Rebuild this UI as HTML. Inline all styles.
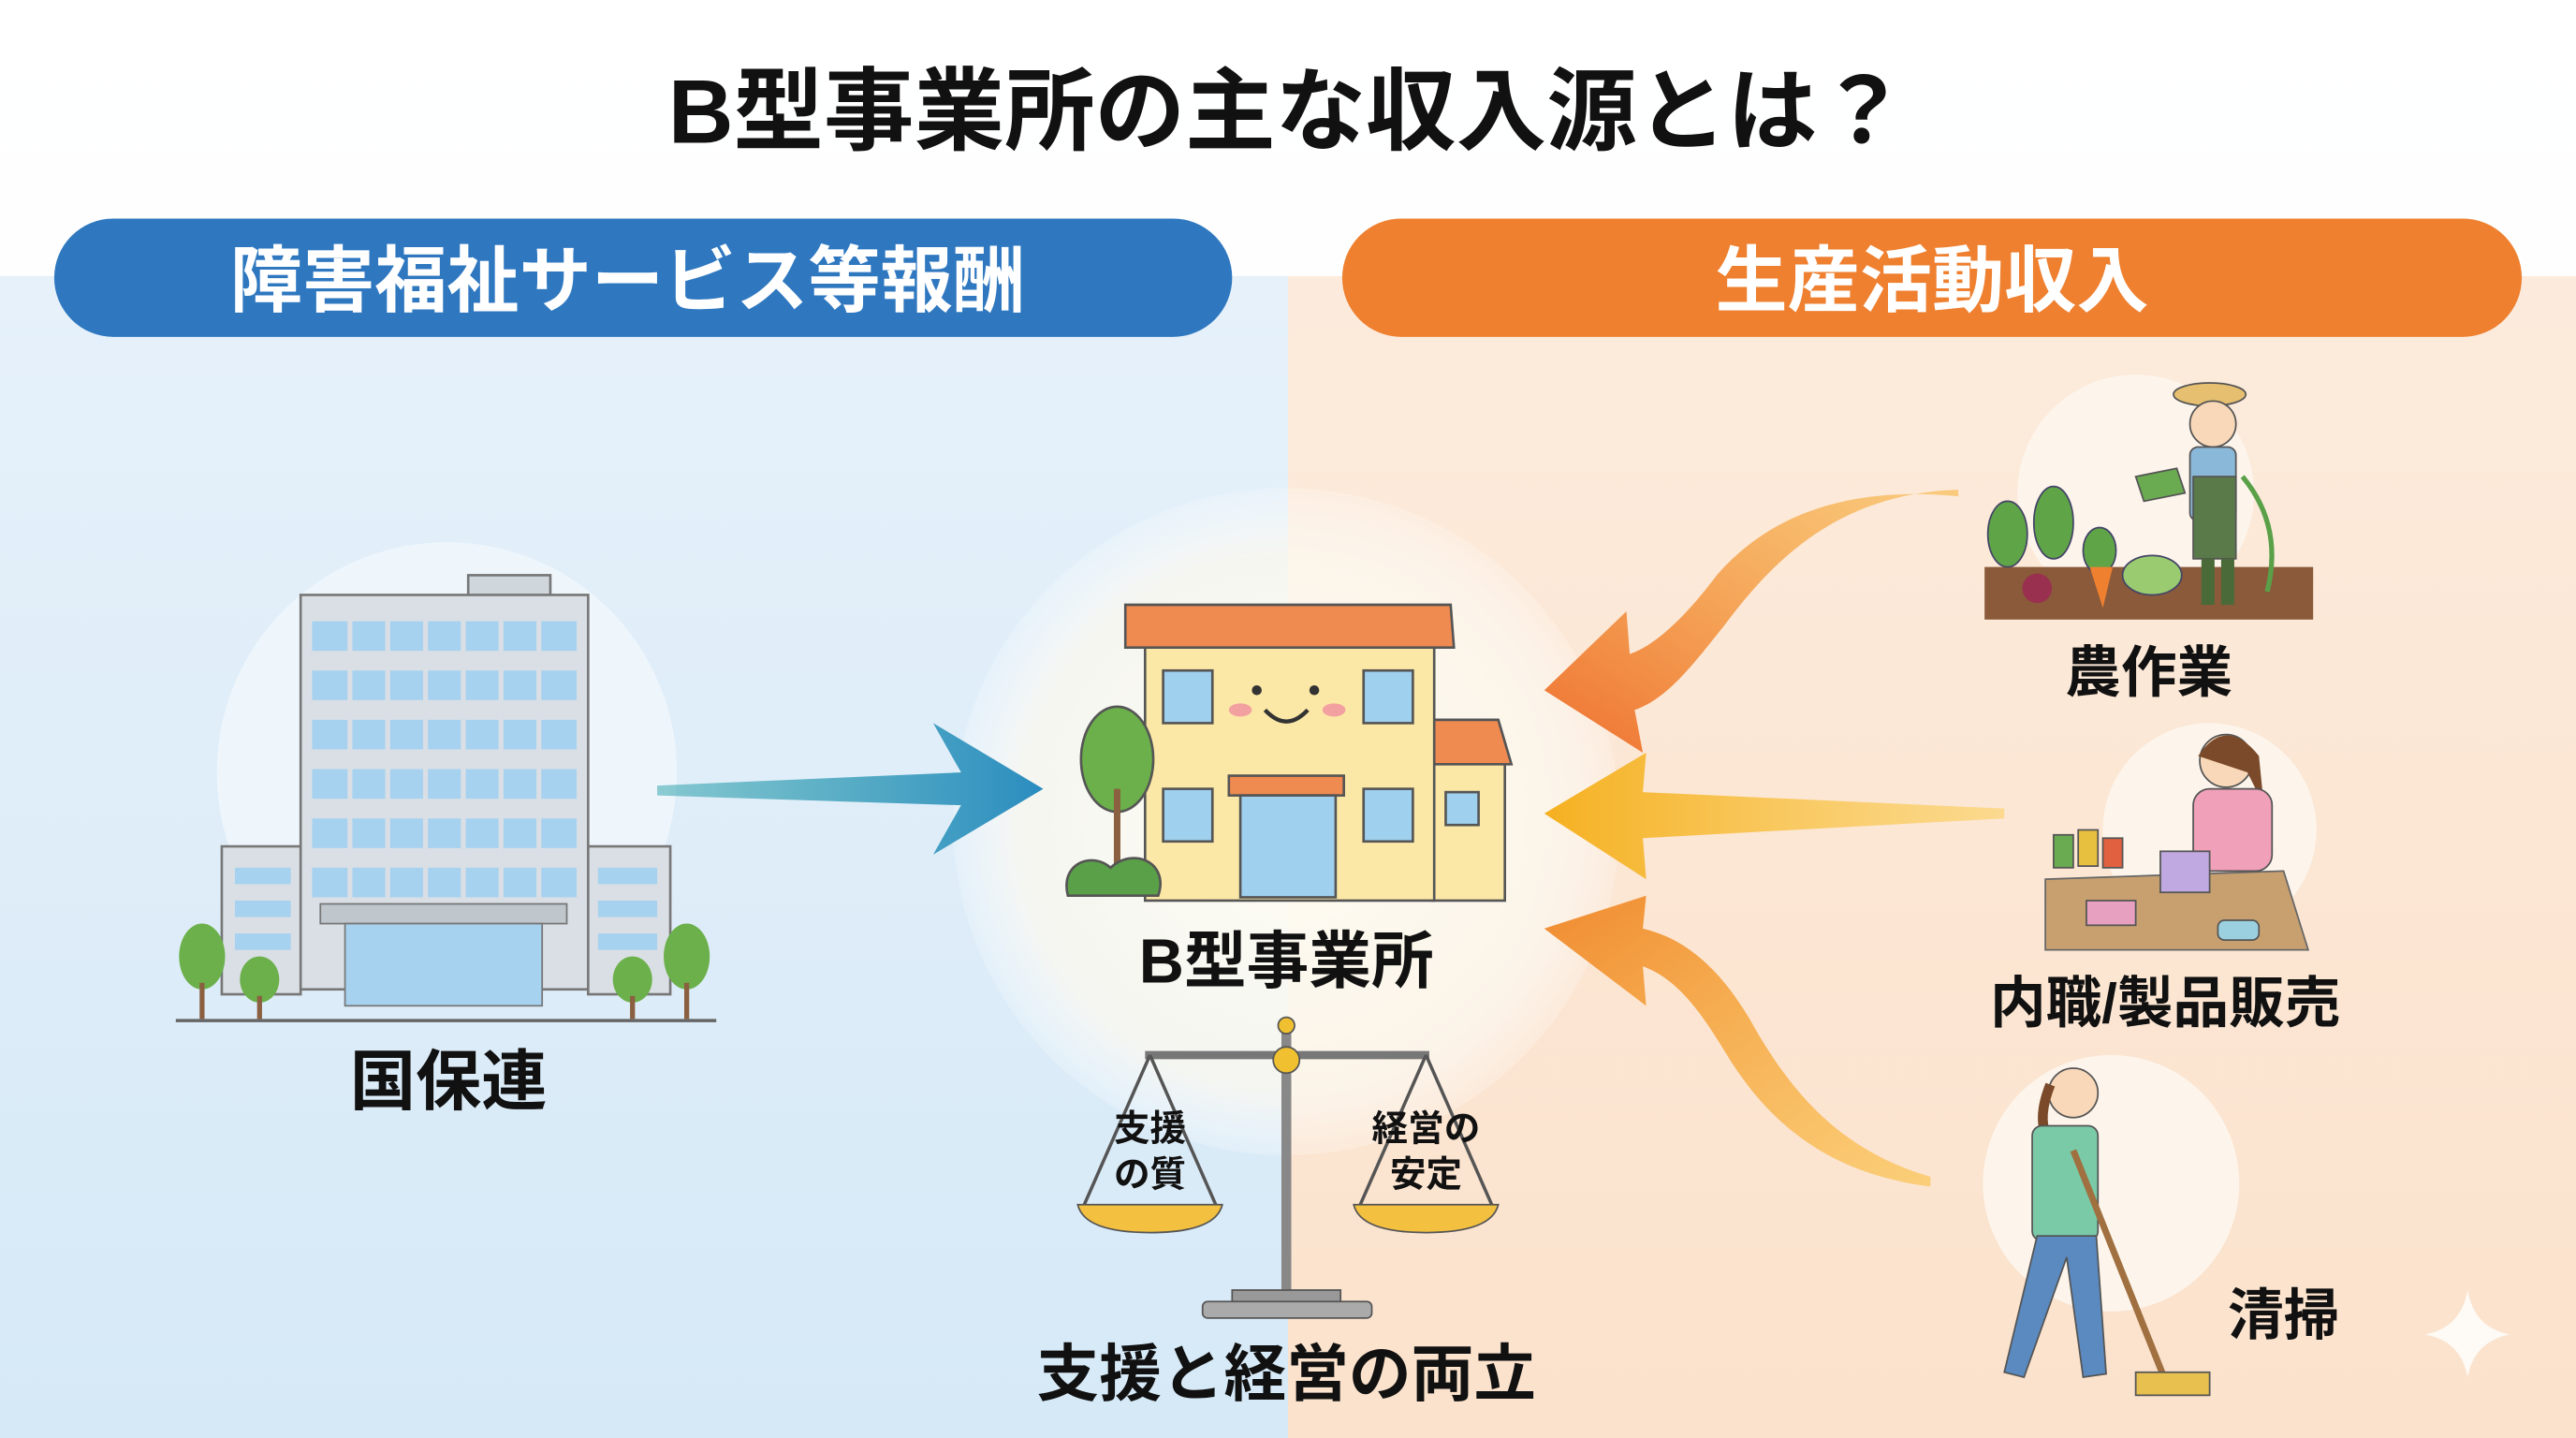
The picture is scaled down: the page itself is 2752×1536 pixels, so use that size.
<!DOCTYPE html>
<html><head><meta charset="utf-8"><style>
html,body{margin:0;padding:0;background:#fff}
svg{display:block}
text{font-family:"Liberation Sans","Noto Sans CJK JP",sans-serif;font-weight:bold}
</style></head><body>
<svg width="2752" height="1536" viewBox="0 0 1568 875" preserveAspectRatio="none" xmlns="http://www.w3.org/2000/svg">
<defs>
<linearGradient id="bgL" x1="0" y1="0" x2="0" y2="1"><stop offset="0" stop-color="#e6f1fa"/><stop offset="1" stop-color="#d6e9f7"/></linearGradient>
<linearGradient id="bgR" x1="0" y1="0" x2="0" y2="1"><stop offset="0" stop-color="#fcebdc"/><stop offset="1" stop-color="#fbe2cc"/></linearGradient>
<linearGradient id="top" x1="0" y1="0" x2="0" y2="1"><stop offset="0" stop-color="#ffffff"/><stop offset="1" stop-color="#f9fbfc"/></linearGradient>
<linearGradient id="ba" x1="0" y1="0" x2="1" y2="0"><stop offset="0" stop-color="#2aa0a8" stop-opacity="0.5"/><stop offset="1" stop-color="#2a8cc0"/></linearGradient>
<linearGradient id="oa1" x1="1" y1="0" x2="0" y2="1"><stop offset="0" stop-color="#f8b640" stop-opacity="0.6"/><stop offset="1" stop-color="#ee7030"/></linearGradient>
<linearGradient id="ya" x1="1" y1="0" x2="0" y2="0"><stop offset="0" stop-color="#fbd060" stop-opacity="0.6"/><stop offset="1" stop-color="#f5b020"/></linearGradient>
<linearGradient id="oa3" x1="1" y1="1" x2="0" y2="0"><stop offset="0" stop-color="#fbc040" stop-opacity="0.6"/><stop offset="1" stop-color="#f08a30"/></linearGradient>
<radialGradient id="glow"><stop offset="0" stop-color="#fffdf4"/><stop offset="0.8" stop-color="#fbf8ef" stop-opacity="0.8"/><stop offset="1" stop-color="#fff" stop-opacity="0.2"/></radialGradient>
</defs>
<rect width="1568" height="875" fill="url(#top)"/>
<rect x="0" y="168" width="784" height="707" fill="url(#bgL)"/>
<rect x="784" y="168" width="784" height="707" fill="url(#bgR)"/>
<text x="784" y="87" font-size="55" text-anchor="middle" fill="#111">B型事業所の主な収入源とは？</text>
<rect x="33" y="133" width="717" height="72" rx="36" fill="#2f78c0"/>
<text x="382" y="186" font-size="44" text-anchor="middle" fill="#fff">障害福祉サービス等報酬</text>
<rect x="817" y="133" width="718" height="72" rx="36" fill="#ee8030"/>
<text x="1176" y="186" font-size="44" text-anchor="middle" fill="#fff">生産活動収入</text>

<!-- left building -->
<circle cx="272" cy="470" r="140" fill="#eef6fc"/>
<rect x="285" y="350" width="50" height="14" fill="#cfd6dc" stroke="#777" stroke-width="1.5"/>
<rect x="183" y="362" width="175" height="240" fill="#d9dfe4" stroke="#777" stroke-width="1.5"/>
<g fill="#a6d2f0">
<rect x="190" y="378" width="161" height="18"/><rect x="190" y="408" width="161" height="18"/><rect x="190" y="438" width="161" height="18"/><rect x="190" y="468" width="161" height="18"/><rect x="190" y="498" width="161" height="18"/><rect x="190" y="528" width="161" height="18"/>
</g>
<g stroke="#d9dfe4" stroke-width="3"><line x1="213" y1="370" x2="213" y2="548"/><line x1="236" y1="370" x2="236" y2="548"/><line x1="259" y1="370" x2="259" y2="548"/><line x1="282" y1="370" x2="282" y2="548"/><line x1="305" y1="370" x2="305" y2="548"/><line x1="328" y1="370" x2="328" y2="548"/></g>
<rect x="135" y="515" width="48" height="90" fill="#d9dfe4" stroke="#777" stroke-width="1.5"/>
<rect x="358" y="515" width="50" height="90" fill="#d9dfe4" stroke="#777" stroke-width="1.5"/>
<g fill="#a6d2f0"><rect x="143" y="528" width="34" height="10"/><rect x="143" y="548" width="34" height="10"/><rect x="143" y="568" width="34" height="10"/><rect x="364" y="528" width="36" height="10"/><rect x="364" y="548" width="36" height="10"/><rect x="364" y="568" width="36" height="10"/></g>
<rect x="195" y="550" width="150" height="12" fill="#bfc6cc" stroke="#777"/>
<rect x="210" y="562" width="120" height="50" fill="#a6d2f0" stroke="#777"/>
<g fill="#6bb04a"><ellipse cx="123" cy="582" rx="14" ry="20"/><ellipse cx="158" cy="596" rx="12" ry="14"/><ellipse cx="385" cy="596" rx="12" ry="14"/><ellipse cx="418" cy="582" rx="14" ry="20"/></g>
<g stroke="#8a6040" stroke-width="3"><line x1="123" y1="598" x2="123" y2="620"/><line x1="158" y1="606" x2="158" y2="620"/><line x1="385" y1="606" x2="385" y2="620"/><line x1="418" y1="598" x2="418" y2="620"/></g>
<line x1="107" y1="621" x2="436" y2="621" stroke="#666" stroke-width="2"/>
<text x="273" y="672" font-size="40" text-anchor="middle" fill="#111">国保連</text>

<circle cx="783" cy="500" r="203" fill="url(#glow)"/>

<path d="M400 478 L585 470 L568 440 L635 480 L568 520 L585 490 L400 484 Z" fill="url(#ba)"/>

<path d="M1192 298 C1120 300 1080 340 1050 380 C1030 405 1015 425 995 432 L1000 458 L940 420 L990 372 L992 398 C1010 392 1030 370 1045 350 C1080 310 1130 296 1192 302 Z" fill="url(#oa1)"/>
<path d="M1220 492 L1000 482 L1002 458 L940 495 L1002 535 L1000 510 L1220 498 Z" fill="url(#ya)"/>
<path d="M1175 722 C1120 715 1080 690 1050 640 C1035 615 1020 595 1000 588 L1002 612 L940 565 L1002 545 L1000 565 C1030 572 1050 595 1065 620 C1090 665 1120 700 1175 716 Z" fill="url(#oa3)"/>

<g stroke="#555" stroke-width="1.5">
<path d="M825 545 C822 525 838 515 850 522 C860 512 880 520 878 545 Z" fill="#5aa048"/>
<rect x="872" y="462" width="44" height="86" fill="#fbe8a6"/>
<polygon points="868,438 912,438 920,465 868,465" fill="#ef8a50"/>
<rect x="880" y="482" width="20" height="20" fill="#9fd0ee"/>
<rect x="697" y="392" width="176" height="156" fill="#fbe8a6"/>
<polygon points="685,368 883,368 885,394 685,394" fill="#ef8a50"/>
<rect x="708" y="408" width="30" height="32" fill="#9fd0ee"/>
<rect x="830" y="408" width="30" height="32" fill="#9fd0ee"/>
<rect x="708" y="480" width="30" height="32" fill="#9fd0ee"/>
<rect x="830" y="480" width="30" height="32" fill="#9fd0ee"/>
<rect x="748" y="472" width="70" height="12" fill="#ef8a50"/>
<rect x="755" y="484" width="58" height="62" fill="#9fd0ee"/>
<ellipse cx="680" cy="462" rx="22" ry="32" fill="#6bb04a"/>
<line x1="680" y1="480" x2="680" y2="545" stroke="#8a6040" stroke-width="4"/>
<path d="M650 545 C645 525 665 518 676 528 C690 515 712 525 705 545 Z" fill="#5aa048"/>
</g>
<circle cx="765" cy="420" r="3" fill="#333"/><circle cx="800" cy="420" r="3" fill="#333"/>
<ellipse cx="755" cy="432" rx="7" ry="4" fill="#f3a0a0"/><ellipse cx="812" cy="432" rx="7" ry="4" fill="#f3a0a0"/>
<path d="M770 432 Q783 446 796 432" stroke="#333" stroke-width="2.5" fill="none"/>
<text x="783" y="598" font-size="38" text-anchor="middle" fill="#111">B型事業所</text>

<g stroke="#555" stroke-width="2" fill="none">
<line x1="783" y1="625" x2="783" y2="790" stroke-width="6" stroke="#888"/>
<line x1="697" y1="642" x2="870" y2="642" stroke-width="5" stroke="#777"/>
<line x1="700" y1="642" x2="660" y2="733"/><line x1="700" y1="642" x2="740" y2="733"/>
<line x1="868" y1="642" x2="828" y2="733"/><line x1="868" y1="642" x2="908" y2="733"/>
</g>
<circle cx="783" cy="645" r="8" fill="#f0c030" stroke="#555"/>
<circle cx="783" cy="624" r="5" fill="#f0c030" stroke="#555"/>
<path d="M656 733 L744 733 Q740 750 700 750 Q660 750 656 733 Z" fill="#f3c040" stroke="#555"/>
<path d="M824 733 L912 733 Q908 750 868 750 Q828 750 824 733 Z" fill="#f3c040" stroke="#555"/>
<rect x="750" y="785" width="66" height="8" fill="#999" stroke="#555"/>
<rect x="732" y="792" width="103" height="10" rx="3" fill="#aaa" stroke="#555"/>
<text x="700" y="694" font-size="22" text-anchor="middle" fill="#111">支援</text>
<text x="700" y="722" font-size="22" text-anchor="middle" fill="#111">の質</text>
<text x="868" y="694" font-size="22" text-anchor="middle" fill="#111">経営の</text>
<text x="868" y="722" font-size="22" text-anchor="middle" fill="#111">安定</text>
<text x="783" y="849" font-size="38" text-anchor="middle" fill="#111">支援と経営の両立</text>

<circle cx="1300" cy="300" r="72" fill="#fdf5ec"/>
<rect x="1208" y="345" width="200" height="32" fill="#8a5a3a"/>
<g fill="#5fa548" stroke="#446" stroke-width="1"><ellipse cx="1222" cy="325" rx="12" ry="20"/><ellipse cx="1250" cy="318" rx="12" ry="22"/><ellipse cx="1278" cy="335" rx="10" ry="14"/><ellipse cx="1310" cy="350" rx="18" ry="12" fill="#9acb70"/></g>
<circle cx="1240" cy="358" r="9" fill="#9a3050"/>
<path d="M1272 345 L1280 370 L1286 345 Z" fill="#ee8030"/>
<ellipse cx="1345" cy="240" rx="22" ry="7" fill="#e6c070" stroke="#555"/>
<circle cx="1347" cy="258" r="14" fill="#f8d8b8" stroke="#555"/>
<rect x="1333" y="272" width="28" height="45" rx="5" fill="#8ab8d8" stroke="#555"/>
<rect x="1335" y="290" width="26" height="50" fill="#5a7a4a" stroke="#555"/>
<rect x="1340" y="340" width="8" height="28" fill="#4a6a3a"/><rect x="1352" y="340" width="8" height="28" fill="#4a6a3a"/>
<path d="M1300 290 L1325 285 L1330 300 L1305 305 Z" fill="#6aaa50" stroke="#555"/>
<path d="M1365 290 Q1390 320 1380 360" stroke="#5aa048" stroke-width="3" fill="none"/>
<text x="1308" y="421" font-size="34" text-anchor="middle" fill="#111">農作業</text>

<circle cx="1345" cy="505" r="65" fill="#fdf5ec"/>
<polygon points="1245,535 1390,530 1405,578 1245,578" fill="#c8a070" stroke="#666"/>
<circle cx="1355" cy="463" r="16" fill="#f8d8b8" stroke="#555"/>
<path d="M1338 460 Q1355 435 1375 460 L1378 490 L1368 470 Z" fill="#7a4a2a"/>
<rect x="1335" y="480" width="48" height="50" rx="10" fill="#f0a0b8" stroke="#555"/>
<rect x="1315" y="518" width="30" height="25" fill="#c0a8e0" stroke="#555"/>
<g stroke="#555"><rect x="1250" y="508" width="12" height="20" fill="#6aaa50"/><rect x="1265" y="505" width="12" height="22" fill="#e8c040"/><rect x="1280" y="510" width="12" height="18" fill="#e06040"/></g>
<rect x="1270" y="548" width="30" height="15" fill="#e8a0c0" stroke="#555"/>
<rect x="1350" y="560" width="25" height="12" rx="4" fill="#9ad0e0" stroke="#555"/>
<text x="1318" y="622" font-size="34" text-anchor="middle" fill="#111">内職/製品販売</text>

<circle cx="1285" cy="720" r="78" fill="#fdf5ec"/>
<circle cx="1262" cy="665" r="15" fill="#f8d8b8" stroke="#555"/>
<path d="M1248 660 Q1240 680 1246 692" stroke="#7a4a2a" stroke-width="6" fill="none"/>
<rect x="1237" y="685" width="40" height="70" rx="6" fill="#7acaa8" stroke="#555"/>
<path d="M1240 752 L1220 835 L1232 838 L1258 765 L1268 838 L1282 836 L1276 752 Z" fill="#5a8ac0" stroke="#555"/>
<line x1="1262" y1="700" x2="1318" y2="840" stroke="#a07040" stroke-width="4"/>
<rect x="1300" y="835" width="45" height="14" fill="#e8c050" stroke="#555"/>
<text x="1390" y="812" font-size="34" text-anchor="middle" fill="#111">清掃</text>

<path d="M1502 785 Q1506 808 1528 812 Q1506 816 1502 838 Q1498 816 1476 812 Q1498 808 1502 785 Z" fill="#fff" opacity="0.8"/>
</svg>
</body></html>
